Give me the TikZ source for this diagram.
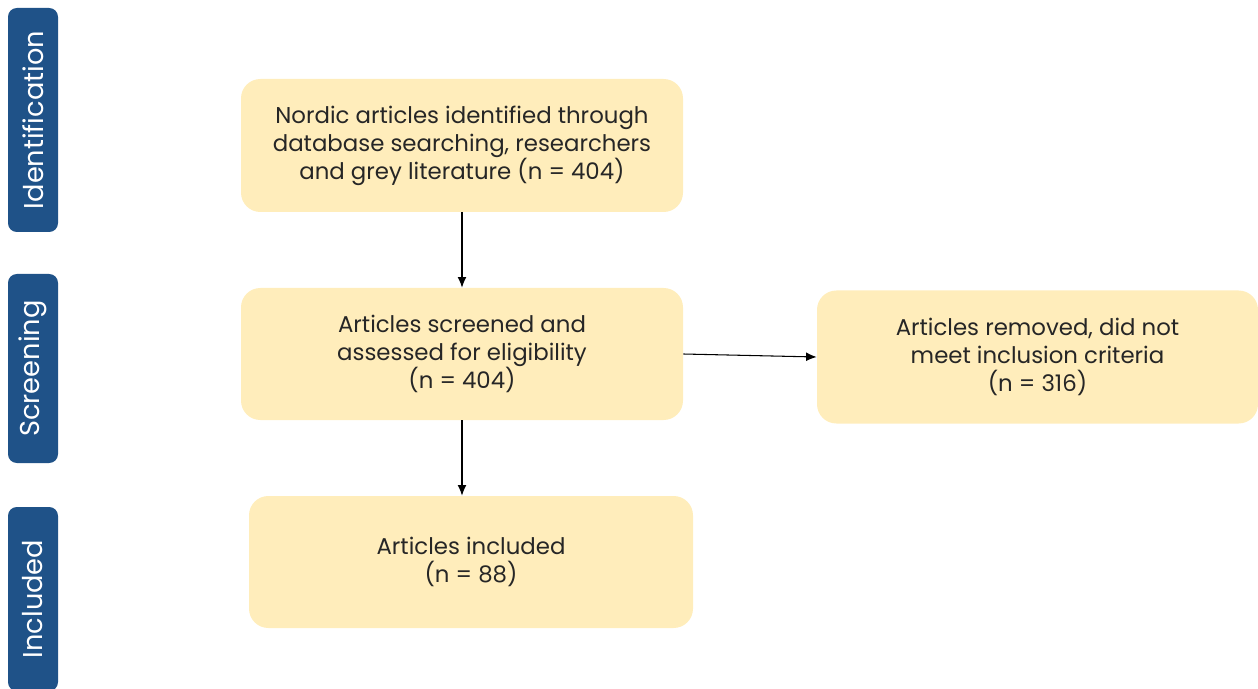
\documentclass[tikz,border=0pt]{standalone}
\usepackage{fontspec}
\setmainfont{Poppins}
\usepackage{tikz}
\usetikzlibrary{arrows.meta, positioning}
\usepackage{xcolor}
\definecolor{Bar}{HTML}{1F5288}
\definecolor{Cream}{HTML}{FFEDBB}
\definecolor{Ink}{HTML}{262626}

\begin{document}
\begin{tikzpicture}[x=0.02cm, y=-0.02cm,
    every node/.style={font=\fontsize{13}{15.9}\selectfont},
    stagebox/.style={fill=Cream, rounded corners=11pt, align=center, text=Ink,
      minimum width=442*0.02cm, minimum height=133*0.02cm, inner sep=0pt},
    phasebar/.style={fill=Bar, rounded corners=5pt, rotate=90, text=white,
      inner sep=0pt, font=\fontsize{15.5}{18}\selectfont},
    flow/.style={-{Latex[length=6pt, width=5pt]}, black, line width=0.6pt}]
  \useasboundingbox (0,0) rectangle (1258,689);
  % Phase bars
  \node[phasebar, minimum width=224*0.02cm, minimum height=50*0.02cm] (idbar) at (33,120) {Identification};
  \node[phasebar, minimum width=189*0.02cm, minimum height=50*0.02cm] (scbar) at (33,368.5) {Screening};
  \node[phasebar, minimum width=184*0.02cm, minimum height=50*0.02cm] (inbar) at (33,599) {Included};
  % Boxes
  \node[stagebox] (ident) at (462,145.5) {Nordic articles identified through\\database searching, researchers\\and grey literature (n = 404)};
  \node[stagebox, minimum height=132*0.02cm] (screen) at (462,354) {Articles screened and\\assessed for eligibility\\(n = 404)};
  \node[stagebox, minimum width=441*0.02cm] (removed) at (1037.5,357) {Articles removed, did not\\meet inclusion criteria\\(n = 316)};
  \node[stagebox, minimum width=444*0.02cm, minimum height=132*0.02cm] (incl) at (471,562) {Articles included\\(n = 88)};
  % Arrows
  \draw[flow] (ident.south -| screen.south) -- (screen.north);
  \draw[flow] (screen.east) -- (removed.west);
  \draw[flow] (screen.south) -- (screen.south |- incl.north);
\end{tikzpicture}
\end{document}
